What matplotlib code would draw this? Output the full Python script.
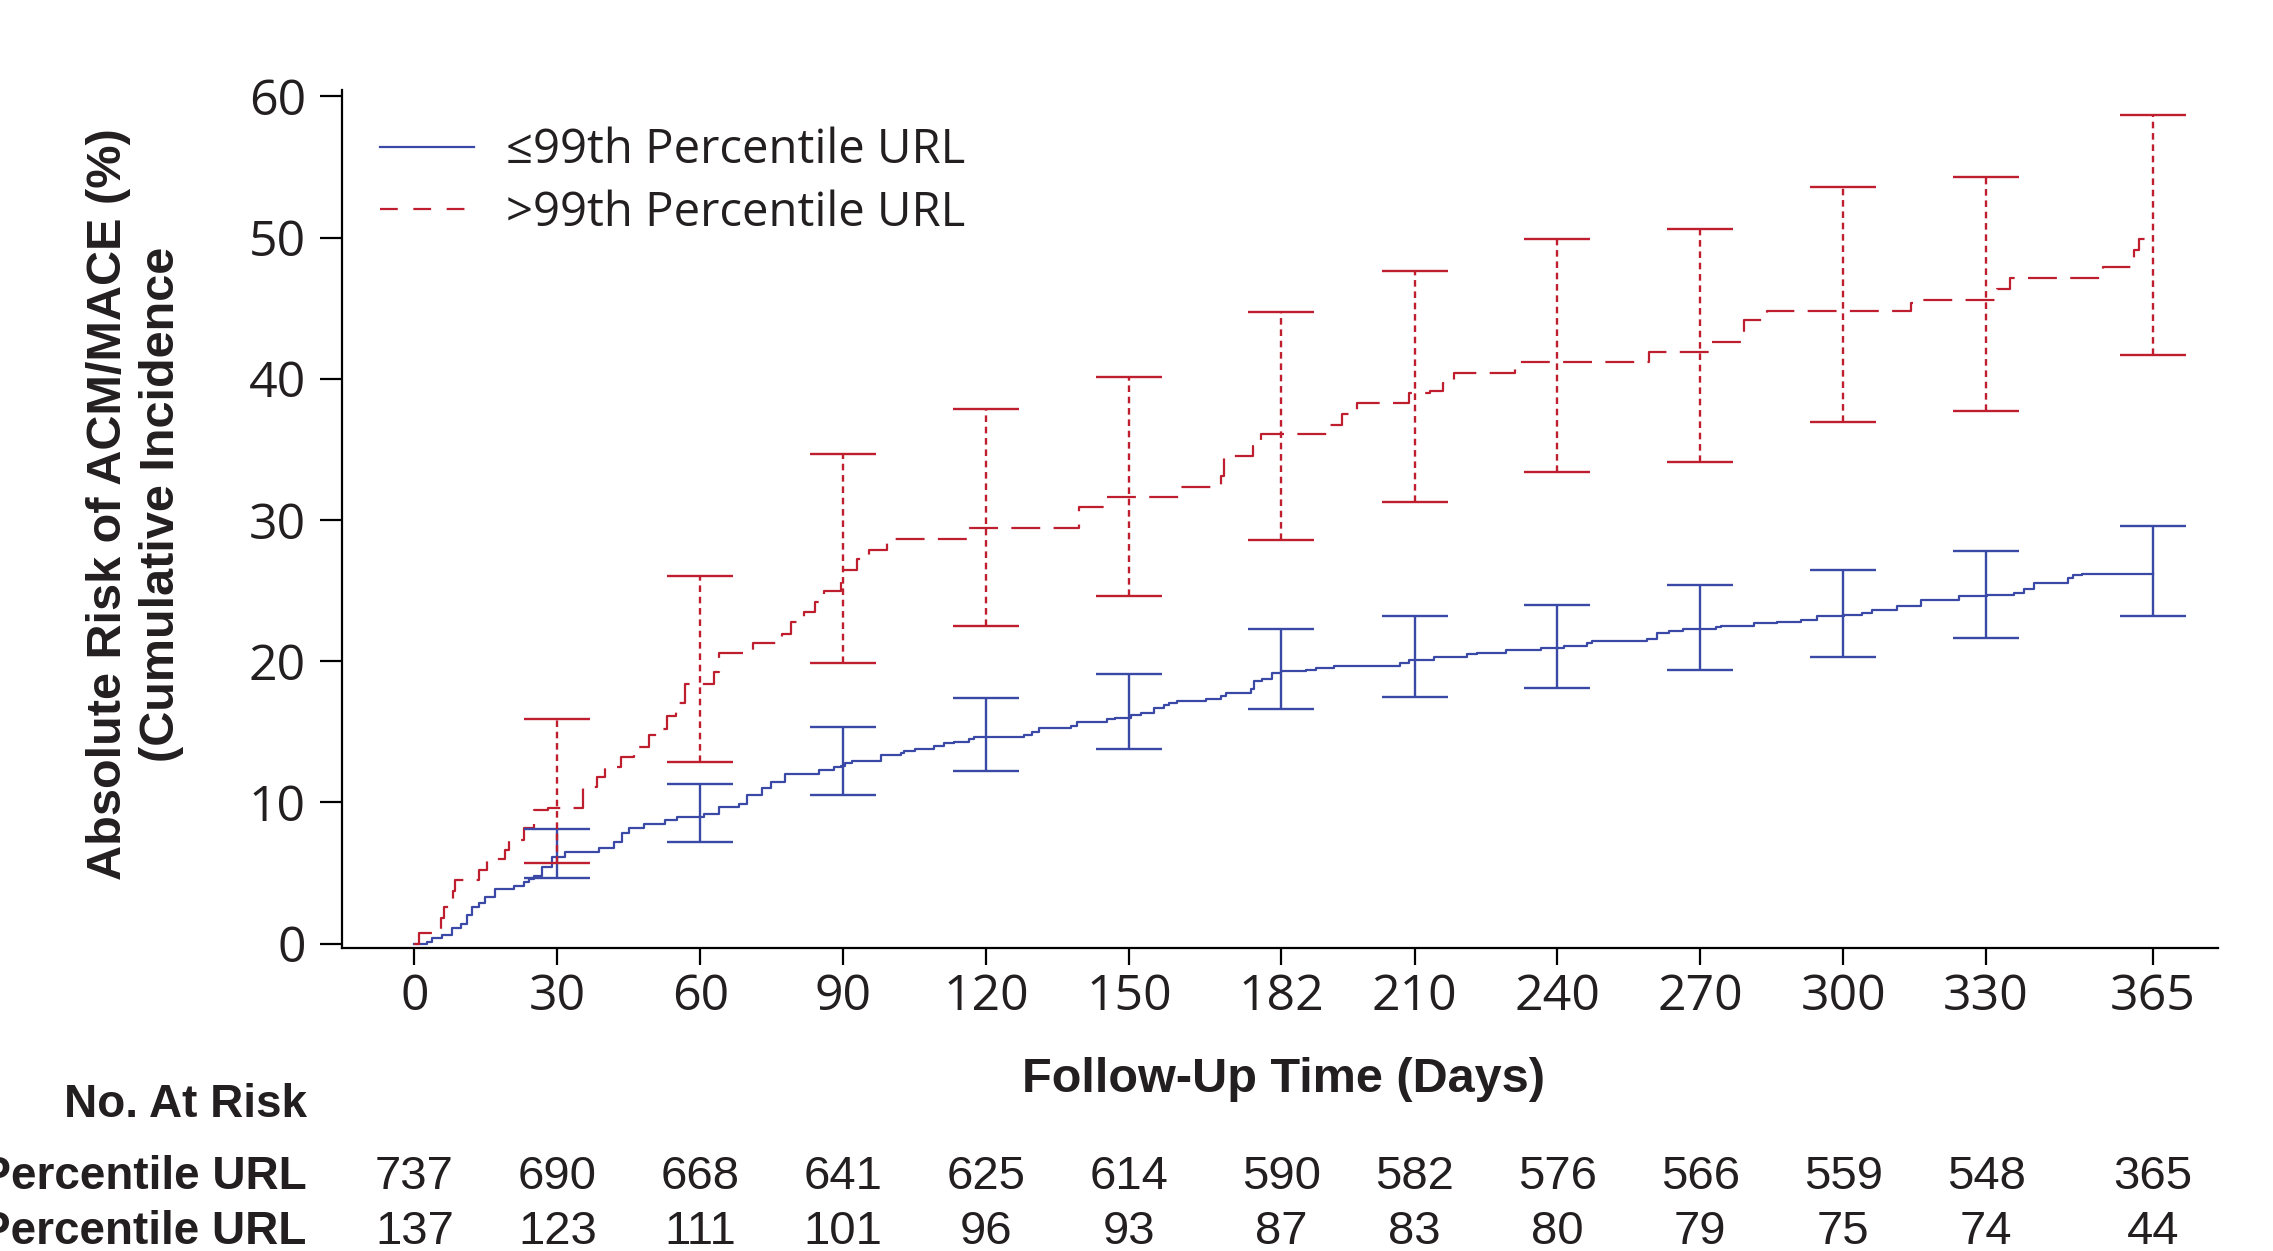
import matplotlib
matplotlib.use("Agg")
import matplotlib.pyplot as plt
import matplotlib.transforms as mtransforms
from matplotlib.lines import Line2D

# ---------------- data ----------------
tick_days = [0, 30, 60, 90, 120, 150, 182, 210, 240, 270, 300, 330, 365]
y_ticks = [0, 10, 20, 30, 40, 50, 60]

low_label = "\u226499th Percentile URL"
high_label = ">99th Percentile URL"

low_t = [0, 2.7, 3.7, 5.8, 7.9, 9.7, 11.1, 12.1, 13.5, 14.9, 17.0, 20.9, 23.0, 24.0, 25.1,
         26.8, 28.9, 31.7, 38.7, 41.9, 43.6, 45.0, 48.2, 52.7, 55.2, 60.8, 63.9, 68.1, 69.9,
         73.0, 74.8, 77.9, 84.9, 88.1, 89.5, 90.5, 91.9, 97.9, 102.1, 102.8, 105.2, 109.1,
         111.2, 113.3, 116.4, 117.5, 127.9, 129.7, 131.1, 137.8, 139.2, 145.5, 147.2, 150.4,
         152.5, 155.3, 157.4, 158.4, 160.2, 166.1, 169.3, 170.3, 175.6, 176.3, 178.0, 180.1,
         181.9, 187.1, 189.2, 193.0, 207.0, 208.8, 214.0, 221.0, 223.2, 229.1, 236.5, 241.4,
         246.3, 247.3, 258.9, 261.0, 263.4, 266.3, 273.3, 274.3, 281.2, 286.2, 291.1, 294.6,
         300.1, 304.0, 306.1, 311.3, 316.3, 324.3, 330.2, 335.9, 338.0, 340.1, 347.2, 348.2,
         350.2, 365]
low_v = [0, 0.13, 0.37, 0.6, 1.07, 1.4, 2.0, 2.6, 2.85, 3.3, 3.84, 4.07, 4.38, 4.6, 4.78,
         5.44, 6.15, 6.5, 6.74, 7.2, 7.8, 8.18, 8.46, 8.75, 8.98, 9.2, 9.7, 9.9, 10.5,
         10.98, 11.45, 12.0, 12.3, 12.5, 12.6, 12.76, 12.9, 13.35, 13.5, 13.65, 13.8, 14.0,
         14.2, 14.3, 14.46, 14.65, 14.76, 14.95, 15.26, 15.4, 15.7, 15.88, 16.0, 16.2,
         16.35, 16.7, 16.9, 17.0, 17.17, 17.3, 17.5, 17.76, 18.0, 18.57, 18.76, 19.13,
         19.3, 19.37, 19.5, 19.67, 19.85, 20.1, 20.3, 20.5, 20.6, 20.77, 20.9, 21.1,
         21.3, 21.4, 21.6, 22.0, 22.1, 22.27, 22.4, 22.5, 22.7, 22.8, 22.9, 23.2,
         23.3, 23.4, 23.6, 23.9, 24.3, 24.6, 24.7, 24.8, 25.1, 25.5, 25.9, 26.1,
         26.2, 26.2]

high_t = [0, 0.9, 5.5, 6.2, 8.0, 8.5, 13.5, 15.3, 19.0, 19.8, 23.0, 25.1, 28.0, 35.4, 38.4,
          40.0, 43.3, 46.0, 49.2, 52.0, 53.0, 55.0, 56.9, 62.9, 64.0, 71.0, 77.2, 79.0, 81.8,
          84.0, 86.0, 89.5, 93.0, 95.4, 99.3, 116.4, 139.5, 145.5, 160.5, 169.3, 170.0,
          176.0, 177.7, 192.0, 194.8, 198.0, 208.8, 213.2, 216.0, 218.3, 231.0, 259.2,
          272.0, 279.2, 284.0, 314.2, 316.0, 332.2, 335.0, 354.5, 361.0, 362.1, 365]
high_v = [0, 0.77, 1.8, 2.6, 3.7, 4.5, 5.2, 5.96, 6.6, 7.33, 8.2, 9.45, 9.62, 11.06, 11.8,
          12.5, 13.2, 13.94, 14.8, 15.2, 16.1, 17.0, 18.4, 19.2, 20.6, 21.3, 21.9, 22.8, 23.5,
          24.2, 25.0, 26.45, 27.2, 27.9, 28.67, 29.4, 30.9, 31.6, 32.3, 33.1, 34.55,
          35.2, 36.05, 36.7, 37.5, 38.26, 38.96, 39.1, 39.7, 40.4, 41.16, 41.9,
          42.6, 44.14, 44.8, 45.35, 45.56, 46.33, 47.1, 47.88, 49.1, 49.9, 49.9]

ci_days = [30, 60, 90, 120, 150, 182, 210, 240, 270, 300, 330, 365]
low_ci_lo = [4.66, 7.17, 10.5, 12.24, 13.75, 16.6, 17.45, 18.1, 19.4, 20.3, 21.66, 23.2]
low_ci_hi = [8.1, 11.3, 15.3, 17.36, 19.1, 22.27, 23.2, 24.0, 25.4, 26.45, 27.8, 29.6]
high_ci_lo = [5.68, 12.83, 19.9, 22.5, 24.6, 28.6, 31.3, 33.4, 34.1, 36.96, 37.7, 41.7]
high_ci_hi = [15.9, 26.0, 34.7, 37.85, 40.1, 44.7, 47.65, 49.9, 50.6, 53.57, 54.27, 58.7]

risk_low = [737, 690, 668, 641, 625, 614, 590, 582, 576, 566, 559, 548, 365]
risk_high = [137, 123, 111, 101, 96, 93, 87, 83, 80, 79, 75, 74, 44]

# ---------------- style ----------------
BLUE = "#3a48a6"
RED = "#bf1e2e"
TXT = "#231f20"
REG = ["Open Sans", "DejaVu Sans"]
COND = ["Liberation Sans Narrow", "Liberation Sans", "DejaVu Sans"]
RED_DASH = (13.0, 6.0)

fig = plt.figure(figsize=(22.73, 12.51), dpi=100)
ax = fig.add_axes([0.1505, 0.2424, 0.8253, 0.6857])

lw = 1.6
ax.plot(low_t, low_v, drawstyle="steps-post", color=BLUE, lw=lw, zorder=3)
ax.plot(high_t, high_v, drawstyle="steps-post", color=RED, lw=lw,
        dashes=RED_DASH, zorder=3)

def draw_ci(days, lo, hi, color, dotted):
    mid = [(a + b) / 2 for a, b in zip(lo, hi)]
    err = [(b - a) / 2 for a, b in zip(lo, hi)]
    _, caps, bars = ax.errorbar(days, mid, yerr=err, fmt="none", ecolor=color,
                                elinewidth=1.7, capsize=24, capthick=1.7, zorder=4)
    if dotted:
        bars[0].set_linestyle((0, (2.8, 2.0)))

draw_ci(ci_days, low_ci_lo, low_ci_hi, BLUE, False)
draw_ci(ci_days, high_ci_lo, high_ci_hi, RED, True)

ax.set_xlim(-15.2, 378.7)
ax.set_ylim(-0.3, 60.45)
ax.set_xticks(tick_days)
ax.set_xticklabels([str(d) for d in tick_days])
ax.set_yticks(y_ticks)
ax.set_yticklabels([str(v) for v in y_ticks])
for s in ["top", "right"]:
    ax.spines[s].set_visible(False)
for s in ["left", "bottom"]:
    ax.spines[s].set_linewidth(1.6)
    ax.spines[s].set_color("black")
ax.tick_params(axis="y", direction="out", length=16, width=1.6, pad=10,
               labelsize=36, labelcolor=TXT)
ax.tick_params(axis="x", direction="out", length=12, width=1.6, pad=6,
               labelsize=36, labelcolor=TXT)
for lab in ax.get_xticklabels() + ax.get_yticklabels():
    lab.set_family(REG)

handles = [Line2D([], [], color=BLUE, lw=lw),
           Line2D([], [], color=RED, lw=lw, dashes=(8.0, 7.0))]
leg = ax.legend(handles, [low_label, high_label], loc="upper left",
                bbox_to_anchor=(0.02, 0.957), frameon=False,
                prop={"family": REG, "size": 34}, handlelength=2.0,
                handletextpad=0.68, labelspacing=0.32, borderpad=0, borderaxespad=0)
for t in leg.get_texts():
    t.set_color(TXT)

# axis labels
fig.text(0.0594, 0.597, "Absolute Risk of ACM/MACE (%)\n(Cumulative Incidence",
         rotation=90, ha="center", va="center", family=COND, weight="bold",
         fontsize=35, color=TXT, linespacing=1.22, multialignment="center")
fig.text(0.5645, 0.137, "Follow-Up Time (Days)", ha="center", va="center",
         family=COND, weight="bold", fontsize=35, color=TXT)

# number at risk table
row1_y = 0.0588
row2_y = 0.0148
fig.text(0.135, 0.117, "No. At Risk", ha="right", va="center", family=COND,
         weight="bold", fontsize=33, color=TXT)
fig.text(0.135, row1_y, low_label, ha="right", va="center", family=COND,
         weight="bold", fontsize=33, color=TXT)
fig.text(0.135, row2_y, high_label, ha="right", va="center", family=COND,
         weight="bold", fontsize=33, color=TXT)
trans = mtransforms.blended_transform_factory(ax.transData, fig.transFigure)
for d, a, b in zip(tick_days, risk_low, risk_high):
    ax.text(d, row1_y, str(a), transform=trans, ha="center", va="center",
            family=COND, fontsize=34, color=TXT, clip_on=False)
    ax.text(d, row2_y, str(b), transform=trans, ha="center", va="center",
            family=COND, fontsize=34, color=TXT, clip_on=False)

fig.savefig("out.png", dpi=100)
